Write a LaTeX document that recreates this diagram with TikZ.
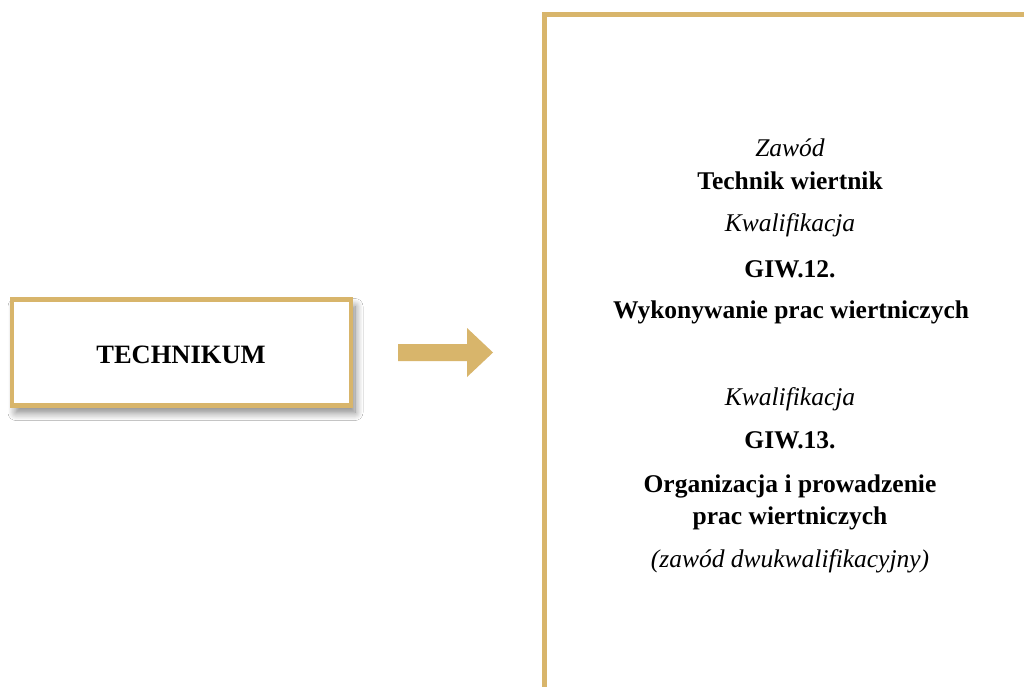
\documentclass[tikz,border=0pt]{standalone}
\usepackage{fontspec}
\setmainfont{Liberation Serif}
\usetikzlibrary{shadows.blur}
\definecolor{gold}{HTML}{D8B56B}
\tikzset{
  goldbox/.style={draw=gold, line width=4.5pt, fill=white},
  txt/.style={anchor=base, inner sep=0pt, font=\fontsize{25.5}{30}\selectfont},
  txtb/.style={txt, font=\fontsize{25.5}{30}\selectfont\bfseries},
  txti/.style={txt, font=\fontsize{25.5}{30}\selectfont\itshape},
}
\begin{document}
\begin{tikzpicture}[x=1pt,y=-1pt]
\useasboundingbox (0,0) rectangle (1024,686);
\clip (0,0) rectangle (1024,686);
\fill[white] (0,0) rectangle (1024,686);
% left box
\node[goldbox, minimum width=339pt, minimum height=106pt, inner sep=0pt,
  blur shadow={shadow xshift=4pt, shadow yshift=-7pt, shadow blur radius=8pt, shadow blur steps=10, shadow opacity=50}]
  (tech) at (181.5,352.5) {};
\node[txtb, font=\fontsize{26.5}{30}\selectfont\bfseries] (techtxt) at (181,363) {TECHNIKUM};
% arrow
\fill[gold] (398,344) -- (467,344) -- (467,328) -- (493,352.5) -- (467,377) -- (467,361) -- (398,361) -- cycle;
% right box
\draw[draw=gold, line width=4.5pt] (544.5,720) coordinate (rb1) -- (544.5,14.5) coordinate (rb2) -- (1060,14.5) coordinate (rb3);
% texts
\node[txti] (l1) at (790,156) {Zawód};
\node[txtb] (l2) at (790,189) {Technik wiertnik};
\node[txti] (l3) at (790,231) {Kwalifikacja};
\node[txtb] (l4) at (790,277) {GIW.12.};
\node[txtb] (l5) at (791,318) {Wykonywanie prac wiertniczych};
\node[txti] (l6) at (790,405) {Kwalifikacja};
\node[txtb] (l7) at (790,448) {GIW.13.};
\node[txtb] (l8) at (790,492) {Organizacja i prowadzenie};
\node[txtb] (l9) at (790,524) {prac wiertniczych};
\node[txti] (l10) at (790,567) {(zawód dwukwalifikacyjny)};
\end{tikzpicture}
\end{document}
